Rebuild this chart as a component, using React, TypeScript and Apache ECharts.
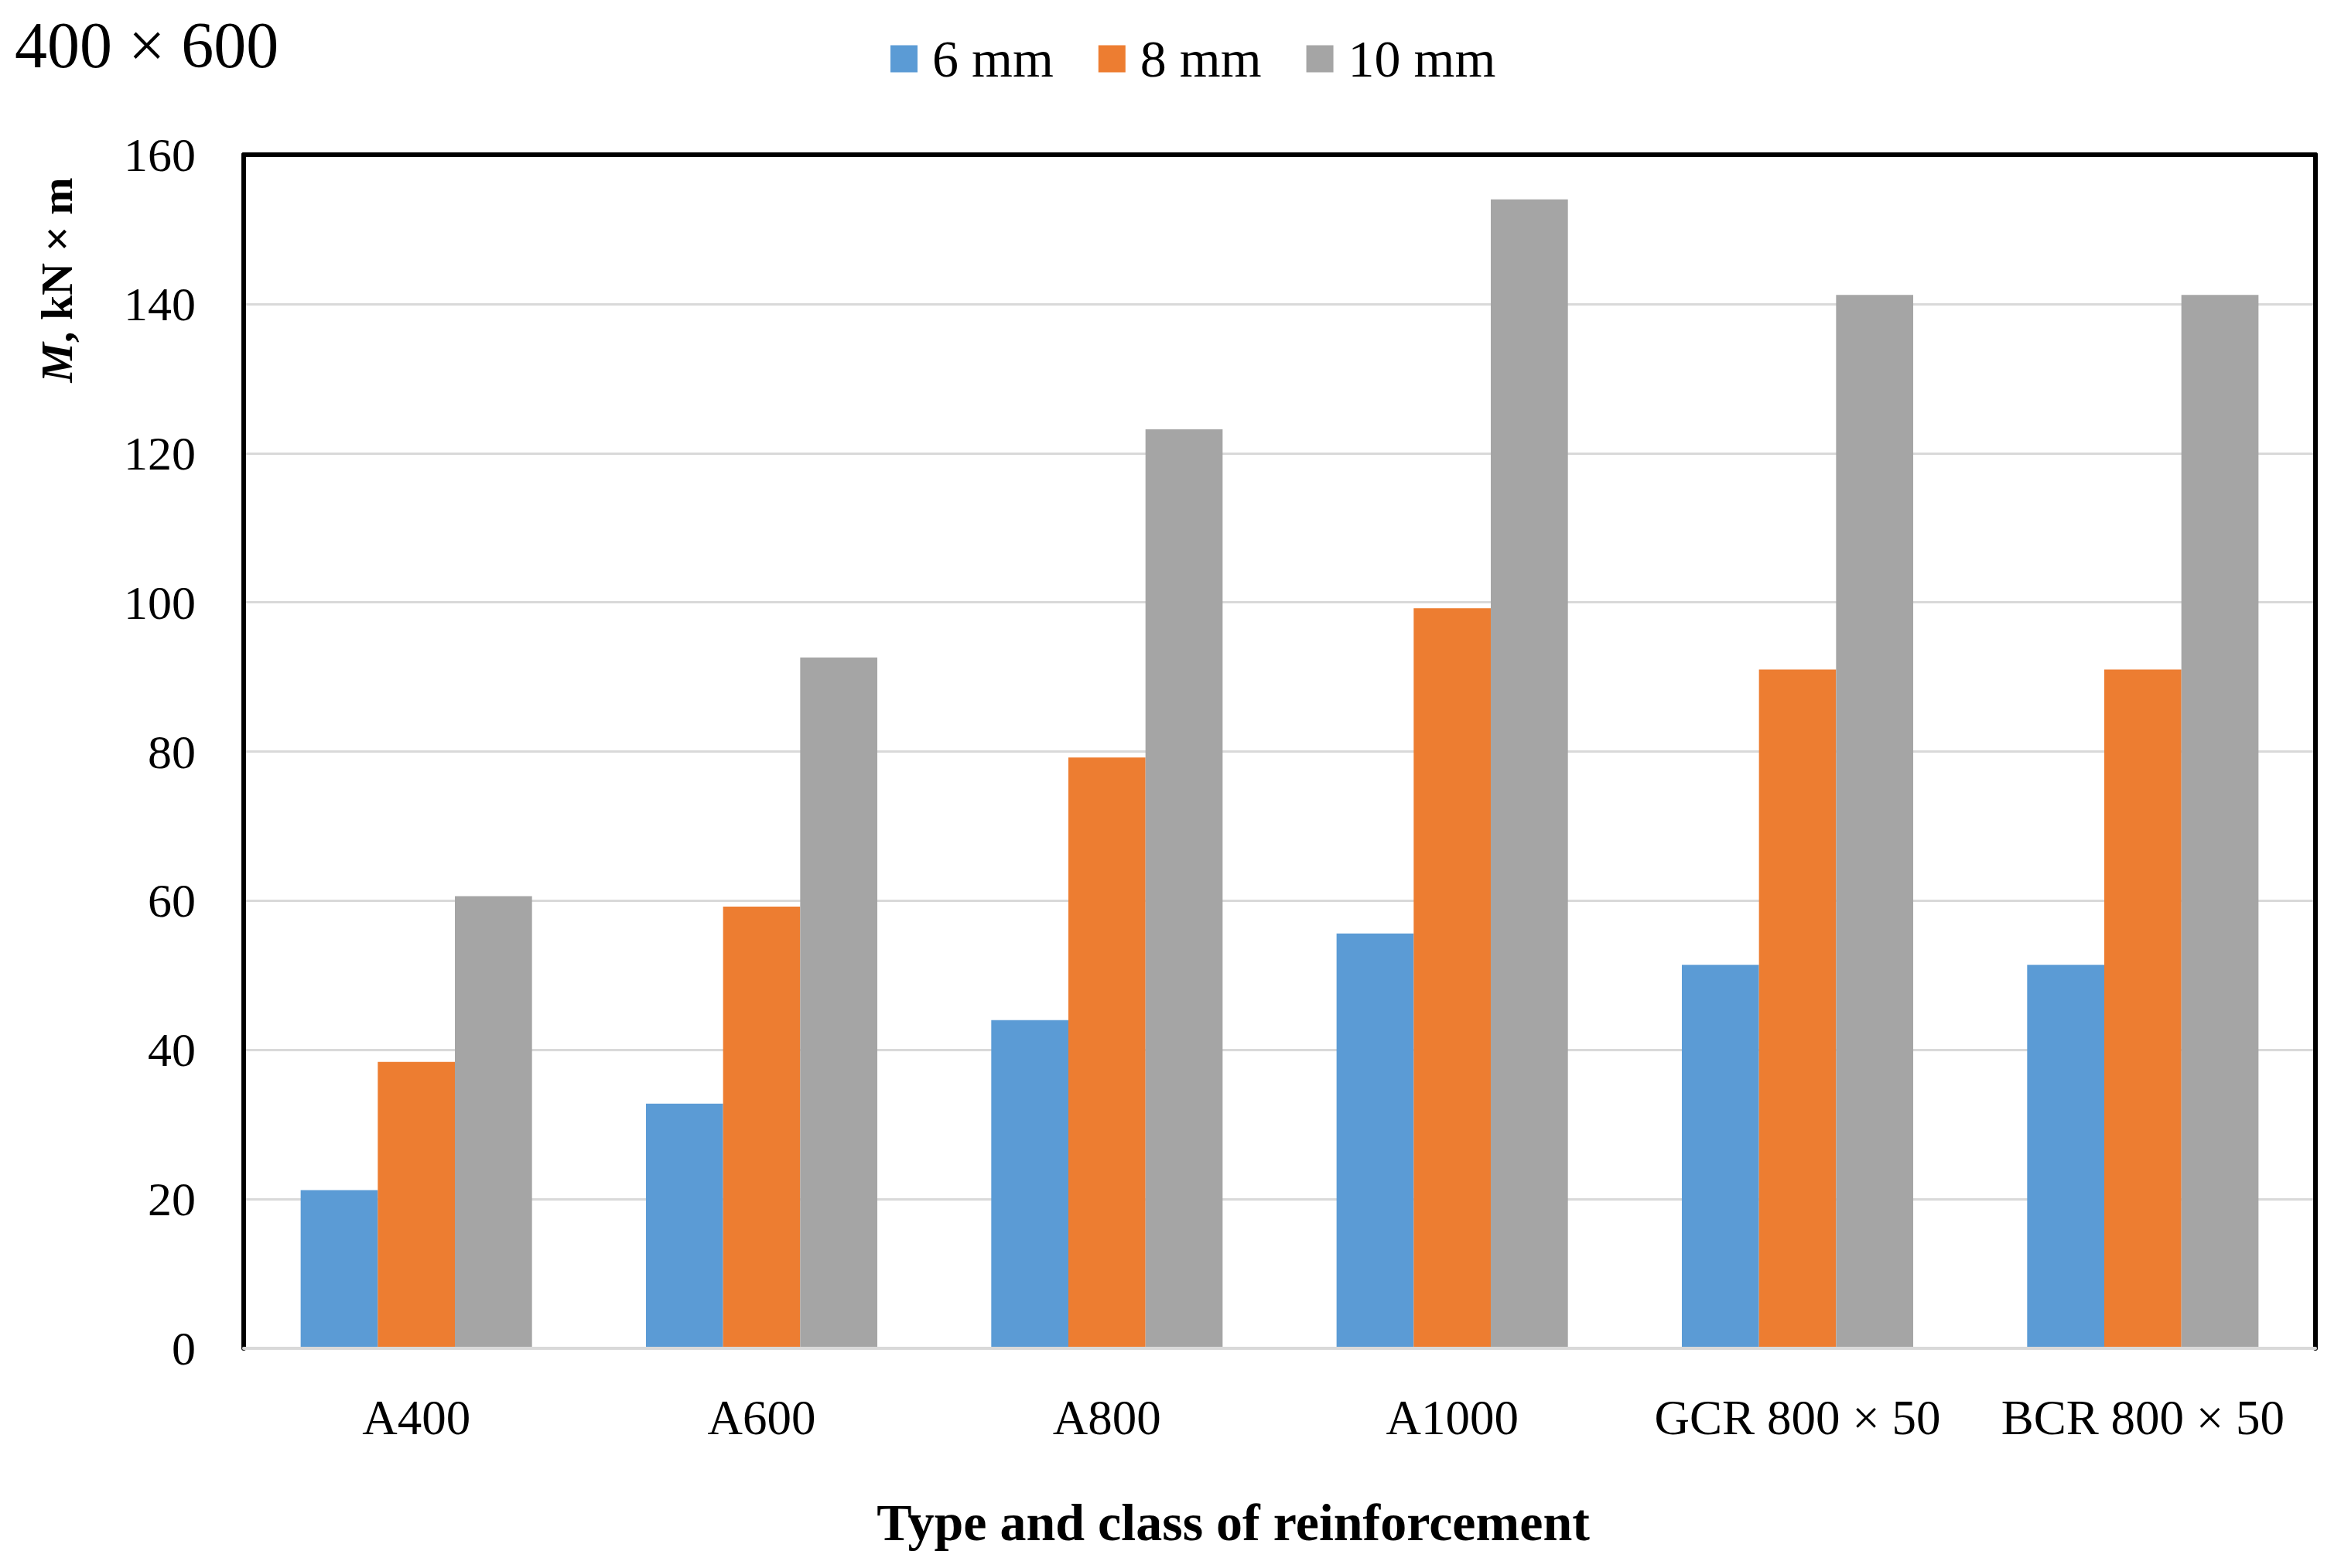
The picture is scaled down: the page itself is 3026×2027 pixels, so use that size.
import React, { useEffect, useRef } from "react";
import * as echarts from "echarts";

const categories = ["A400", "A600", "A800", "A1000", "GCR 800 × 50", "BCR 800 × 50"];
const seriesNames = ["6 mm", "8 mm", "10 mm"];
const values6 = [21.2, 32.8, 44.0, 55.6, 51.4, 51.4];
const values8 = [38.4, 59.2, 79.2, 99.2, 91.0, 91.0];
const values10 = [60.6, 92.6, 123.2, 154.0, 141.2, 141.2];
const yMin = 0;
const yMax = 160;
const yStep = 20;
const titleText = "400 × 600";
const xAxisTitle = "Type and class of reinforcement";

const FONT = "'Liberation Serif', 'Times New Roman', serif";
const colors = ["#5B9BD5", "#ED7D31", "#A5A5A5"];

export default function App() {
  const ref = useRef<HTMLDivElement>(null);
  useEffect(() => {
    if (!ref.current) return;
    const chart = echarts.init(ref.current, undefined, { renderer: "svg" });
    chart.setOption({
      animation: false,
      backgroundColor: "#ffffff",
      color: colors,
      textStyle: { fontFamily: FONT },
      grid: { left: 315, right: 33, top: 200, bottom: 284, containLabel: false },
      legend: {
        data: seriesNames,
        left: 1146,
        top: 36,
        icon: "rect",
        itemWidth: 35,
        itemHeight: 35,
        itemGap: 58,
        textStyle: { fontFamily: FONT, fontSize: 68, color: "#000", padding: [0, 0, 0, 14], lineHeight: 70 },
      },
      xAxis: [
        {
          type: "category",
          data: categories,
          position: "bottom",
          axisLine: { show: true, onZero: false, lineStyle: { color: "#D9D9D9", width: 4 } },
          axisTick: { show: false },
          axisLabel: { fontFamily: FONT, fontSize: 63, color: "#000", margin: 58, interval: 0 },
          splitLine: { show: false },
          z: 3,
        },
        {
          type: "category",
          data: categories,
          position: "top",
          axisLine: { show: true, onZero: false, lineStyle: { color: "#000", width: 6 } },
          axisTick: { show: false },
          axisLabel: { show: false },
          splitLine: { show: false },
        },
      ],
      yAxis: [
        {
          type: "value",
          min: yMin,
          max: yMax,
          interval: yStep,
          position: "left",
          axisLine: { show: true, onZero: false, lineStyle: { color: "#000", width: 6 } },
          axisTick: { show: false },
          axisLabel: { fontFamily: FONT, fontSize: 62, color: "#000", margin: 62 },
          splitLine: { show: true, lineStyle: { color: "#D9D9D9", width: 3 } },
        },
        {
          type: "value",
          min: yMin,
          max: yMax,
          interval: yStep,
          position: "right",
          axisLine: { show: true, onZero: false, lineStyle: { color: "#000", width: 6 } },
          axisTick: { show: false },
          axisLabel: { show: false },
          splitLine: { show: false },
        },
      ],
      series: [
        { name: seriesNames[0], type: "bar", data: values6, barGap: "0%", barCategoryGap: "33%", itemStyle: { color: colors[0] } },
        { name: seriesNames[1], type: "bar", data: values8, barGap: "0%", barCategoryGap: "33%", itemStyle: { color: colors[1] } },
        { name: seriesNames[2], type: "bar", data: values10, barGap: "0%", barCategoryGap: "33%", itemStyle: { color: colors[2] } },
      ],
      graphic: [
        {
          type: "text",
          x: 19,
          y: 58,
          style: { text: titleText, fontFamily: FONT, fontSize: 84, fill: "#000", textAlign: "left", textVerticalAlign: "middle" },
        },
        {
          type: "text",
          x: 73,
          y: 362,
          rotation: Math.PI / 2,
          style: {
            text: "{i|M}{b|, kN × m}",
            textAlign: "center",
            textVerticalAlign: "middle",
            rich: {
              i: { fontFamily: FONT, fontSize: 58, fontWeight: "bold", fontStyle: "italic", fill: "#000" },
              b: { fontFamily: FONT, fontSize: 58, fontWeight: "bold", fill: "#000" },
            },
          },
        },
        {
          type: "text",
          x: 1594,
          y: 1968,
          style: { text: xAxisTitle, fontFamily: FONT, fontSize: 68, fontWeight: "bold", fill: "#000", textAlign: "center", textVerticalAlign: "middle" },
        },
      ],
    });
    return () => chart.dispose();
  }, []);
  return <div ref={ref} style={{ position: "absolute", left: 0, top: 0, width: 3026, height: 2027 }} />;
}
